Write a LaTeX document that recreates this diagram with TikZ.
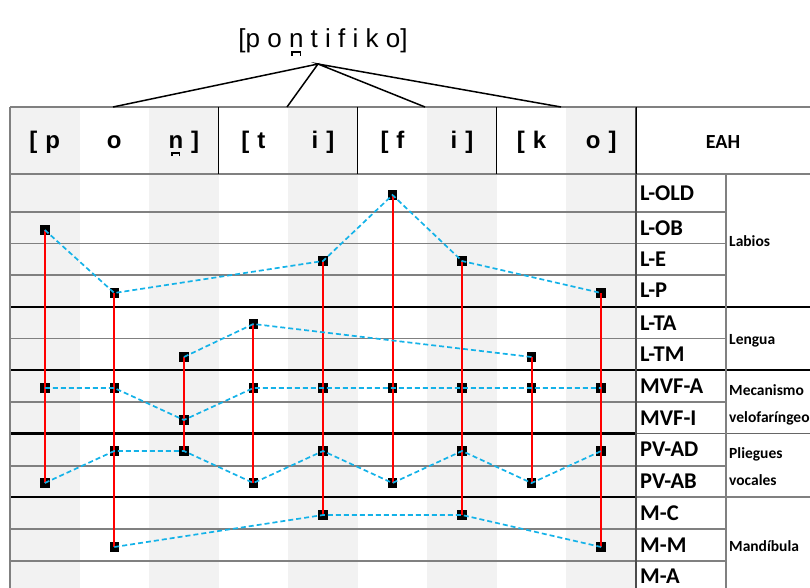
\documentclass[tikz,border=0pt]{standalone}
\usepackage{fontspec}
\setmainfont{Carlito}
\newfontfamily\arialf{Liberation Sans}
\definecolor{colgray}{RGB}{242,242,242}
\definecolor{dashblue}{RGB}{20,178,232}
\newcommand\nbr{\rlap{n}\makebox[\fontcharwd\font`n]{\raisebox{-0.3em}{\rule{0.06em}{0.17em}\rule[0.11em]{0.26em}{0.06em}\rule{0.06em}{0.17em}}}}
\newcommand\hs{\hspace{8pt}}
\begin{document}
\begin{tikzpicture}[x=1pt,y=-1pt,
 mk/.style={fill=black,minimum width=9.5pt,minimum height=10pt,inner sep=0pt,draw=none},
 vline/.style={red,line width=2pt},
 dline/.style={dashblue,dash pattern=on 5pt off 3pt,line width=1.7pt},
 hdr/.style={font=\arialf\fontsize{24}{28}\selectfont\bfseries,anchor=base,inner sep=0pt},
 lab/.style={font=\fontsize{22.5}{26}\selectfont\bfseries,anchor=base west,inner sep=0pt},
 grp/.style={font=\fontsize{15.5}{18}\selectfont\bfseries,anchor=base west,inner sep=0pt},
 gthin/.style={black!50,line width=1.2pt},
 gthick/.style={black,line width=2.6pt},
 gvert/.style={black!70,line width=1.2pt},
 tree/.style={black,line width=1.5pt}]
\useasboundingbox (0,0) rectangle (810,588);
% column shading
\foreach \i in {0,2,4,6,8}
  \fill[colgray] ({10+69.55*\i},107) rectangle ({10+69.55*(\i+1)},588);
% horizontal thin lines
\foreach \yy in {212,243.5,275,338.5,402,466,529,561}
  \draw[gthin] (10,\yy) -- (726,\yy);
\draw[gthin] (10,107) -- (810,107);
\draw[gthin] (10,174) -- (810,174);
% group separators
\draw[gthick] (10,307) -- (810,307);
\draw[gthick] (10,370) -- (810,370);
\draw[gthick] (10,433.5) -- (636,433.5);
\draw[black!60,line width=1.4pt] (636,433.5) -- (810,433.5);
\draw[gthick] (10,497) -- (636,497);
\draw[gthin] (636,497) -- (810,497);
% verticals
\draw[gthin] (10,107) -- (10,588);
\draw[gvert] (636,107) -- (636,588);
\draw[gthin] (726,174) -- (726,588);
\foreach \xx in {218.7,357.8,496.9}
  \draw[black,line width=1pt] (\xx,107) -- (\xx,174);
\draw[black,line width=1pt] (636,107) -- (636,174);
% title and tree
\node[font=\arialf\fontsize{26}{30}\selectfont,anchor=base,inner sep=0pt] (title) at (323,48) {[p o \nbr{} t i f i k o]};
\coordinate (apex) at (318,64);
\coordinate (f1) at (113,107);
\coordinate (f2) at (287,107);
\coordinate (f3) at (425,107);
\coordinate (f4) at (561,107);
\draw[tree] (f1) -- (apex) -- (f2);
\draw[tree] (f3) -- (apex) -- (f4);
% header
\node[hdr] (h1) at (44.8,149) {[\hs p};
\node[hdr] (h2) at (114.3,149) {o};
\node[hdr] (h3) at (183.9,149) {\nbr\hs ]};
\node[hdr] (h4) at (253.4,149) {[\hs t};
\node[hdr] (h5) at (323,149) {i\hs ]};
\node[hdr] (h6) at (392.5,149) {[\hs f};
\node[hdr] (h7) at (462,149) {i\hs ]};
\node[hdr] (h8) at (531.6,149) {[\hs k};
\node[hdr] (h9) at (601.2,149) {o\hs ]};
\node[font=\fontsize{20}{24}\selectfont\bfseries,anchor=base,inner sep=0pt] (eah) at (723,149) {EAH};
% row labels
\node[lab] (lold) at (640,200) {L-OLD};
\node[lab] (lob) at (640,235) {L-OB};
\node[lab] (le) at (640,266) {L-E};
\node[lab] (lp) at (640,297) {L-P};
\node[lab] (lta) at (640,330) {L-TA};
\node[lab] (ltm) at (640,361) {L-TM};
\node[lab] (mvfa) at (640,393) {MVF-A};
\node[lab] (mvfi) at (640,425) {MVF-I};
\node[lab] (pvad) at (640,456) {PV-AD};
\node[lab] (pvab) at (640,488) {PV-AB};
\node[lab] (mc) at (640,520) {M-C};
\node[lab] (mm) at (640,552) {M-M};
\node[lab] (ma) at (640,583) {M-A};
% group labels
\node[grp] (g1) at (729,246) {Labios};
\node[grp] (g2) at (729,344) {Lengua};
\node[grp] (g3a) at (729,395) {Mecanismo};
\node[grp] (g3b) at (729,422) {velofaríngeo};
\node[grp] (g4a) at (729,458) {Pliegues};
\node[grp] (g4b) at (729,485) {vocales};
\node[grp] (g5) at (729,551) {Mandíbula};
% markers
\node[mk] (a1) at (44.8,230) {};
\node[mk] (b1) at (44.8,388) {};
\node[mk] (c1) at (44.8,483) {};
\node[mk] (a2) at (114.3,293) {};
\node[mk] (b2) at (114.3,388) {};
\node[mk] (c2) at (114.3,451) {};
\node[mk] (d2) at (114.3,547) {};
\node[mk] (a3) at (183.9,357) {};
\node[mk] (b3) at (183.9,420) {};
\node[mk] (c3) at (183.9,451) {};
\node[mk] (a4) at (253.4,324) {};
\node[mk] (b4) at (253.4,388) {};
\node[mk] (c4) at (253.4,483) {};
\node[mk] (a5) at (323,261) {};
\node[mk] (b5) at (323,388) {};
\node[mk] (c5) at (323,451) {};
\node[mk] (d5) at (323,515) {};
\node[mk] (a6) at (392.5,195) {};
\node[mk] (b6) at (392.5,388) {};
\node[mk] (c6) at (392.5,483) {};
\node[mk] (a7) at (462,261) {};
\node[mk] (b7) at (462,388) {};
\node[mk] (c7) at (462,451) {};
\node[mk] (d7) at (462,515) {};
\node[mk] (a8) at (531.6,357) {};
\node[mk] (b8) at (531.6,388) {};
\node[mk] (c8) at (531.6,483) {};
\node[mk] (a9) at (601.2,293) {};
\node[mk] (b9) at (601.2,388) {};
\node[mk] (c9) at (601.2,451) {};
\node[mk] (d9) at (601.2,547) {};
% red verticals
\draw[vline] (a1.center) -- (c1.center);
\draw[vline] (a2.center) -- (d2.center);
\draw[vline] (a3.center) -- (c3.center);
\draw[vline] (a4.center) -- (c4.center);
\draw[vline] (a5.center) -- (d5.center);
\draw[vline] (a6.center) -- (c6.center);
\draw[vline] (a7.center) -- (d7.center);
\draw[vline] (a8.center) -- (c8.center);
\draw[vline] (a9.center) -- (d9.center);
% blue dashed
\draw[dline] (a1.center) -- (a2.center) -- (a5.center) -- (a6.center) -- (a7.center) -- (a9.center);
\draw[dline] (a3.center) -- (a4.center) -- (a8.center);
\draw[dline] (b1.center) -- (b2.center) -- (b3.center) -- (b4.center) -- (b5.center) -- (b6.center) -- (b7.center) -- (b8.center) -- (b9.center);
\draw[dline] (c1.center) -- (c2.center) -- (c3.center) -- (c4.center) -- (c5.center) -- (c6.center) -- (c7.center) -- (c8.center) -- (c9.center);
\draw[dline] (d2.center) -- (d5.center) -- (d7.center) -- (d9.center);
\end{tikzpicture}
\end{document}
